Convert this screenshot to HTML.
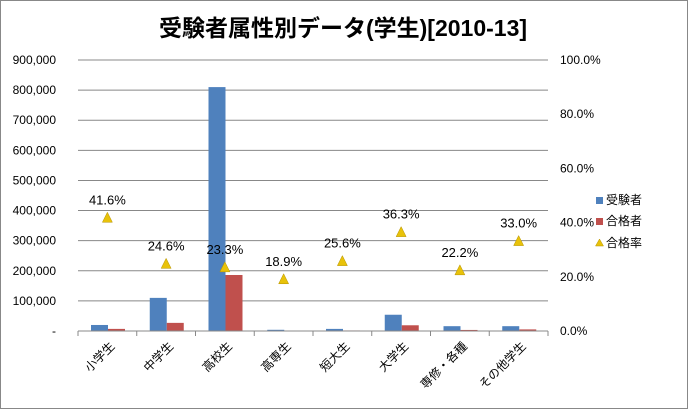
<!DOCTYPE html>
<html><head><meta charset="utf-8"><style>
body{margin:0;background:#fff;}
svg{display:block;font-family:"Liberation Sans","Noto Sans CJK JP",sans-serif;}
</style></head><body>
<svg width="688" height="409" viewBox="0 0 688 409" id="c">
<rect x="0.5" y="0.5" width="687" height="408" fill="#fff" stroke="#888"/>
<text x="343" y="36" text-anchor="middle" font-size="23" font-weight="bold" fill="#000">受験者属性別データ(学生)[2010-13]</text>
<g id="grid"></g><g id="bars"></g><g id="axes"></g><g id="marks"></g>
<g>
<rect x="596" y="197" width="7" height="7" fill="#4f81bd"/>
<text x="606" y="204" font-size="12">受験者</text>
<rect x="596" y="218" width="7" height="7" fill="#c0504d"/>
<text x="606" y="225" font-size="12">合格者</text>
<polygon points="599.5,239 603.5,246 595.5,246" fill="#e8c20a" stroke="#b59200" stroke-width="0.5"/>
<text x="606" y="247" font-size="12">合格率</text>
</g>
</svg>
<script>
const categories=["小学生","中学生","高校生","高専生","短大生","大学生","専修・各種","その他学生"];
const examinees=[20000,110000,810000,4000,7000,54000,16000,16000];
const passers=[7000,27000,186000,800,1800,19000,3500,5300];
const rates=[41.6,24.6,23.3,18.9,25.6,36.3,22.2,33.0];
const leftTicks=[0,100000,200000,300000,400000,500000,600000,700000,800000,900000];
const rightTicks=[0,20,40,60,80,100];
const NS="http://www.w3.org/2000/svg";
const X0=78,X1=548,Y0=331,Y1=60;
const cw=(X1-X0)/categories.length;
const yL=v=>Y0-(v/900000)*(Y0-Y1);
const yR=v=>Y0-(v/100)*(Y0-Y1);
function mk(t,a,p){const e=document.createElementNS(NS,t);for(const k in a)e.setAttribute(k,a[k]);document.getElementById(p).appendChild(e);return e;}
leftTicks.forEach(v=>{
 if(v>0){const g=mk("line",{x1:X0,x2:X1,y1:yL(v),y2:yL(v),stroke:"#888","stroke-width":1},"grid");
 
 }
 const t=mk("text",{x:X0-22,y:yL(v)+4,"text-anchor":"end","font-size":12},"axes");
 t.textContent=v===0?"-":v.toLocaleString("en-US");
 
 
});
rightTicks.forEach(v=>{
 const t=mk("text",{x:X1+12,y:yR(v)+4,"font-size":12},"axes");
 t.textContent=v.toFixed(1)+"%";
 
 
});
const ax=mk("line",{x1:X0,x2:X1,y1:Y0,y2:Y0,stroke:"#888"},"axes");


categories.forEach((c,i)=>{
 const x=X0+i*cw;
 const tk=mk("line",{x1:x,x2:x,y1:Y0,y2:Y0+5,stroke:"#888"},"axes");
 
 
 const b=mk("rect",{x:x+13,y:yL(examinees[i]),width:17,height:Y0-yL(examinees[i]),fill:"#4f81bd"},"bars");
 
 
 const r=mk("rect",{x:x+30,y:yL(passers[i]),width:17,height:Y0-yL(passers[i]),fill:"#c0504d"},"bars");
 
 
 const cx=x+cw/2,cy=yR(rates[i]);
 const m=mk("polygon",{points:`${cx},${cy-6} ${cx+5},${cy+4} ${cx-5},${cy+4}`,fill:"#e8c20a",stroke:"#b59200","stroke-width":0.5},"marks");
 
 
 const l=mk("text",{x:cx,y:cy-14,"text-anchor":"middle","font-size":13},"marks");
 l.textContent=rates[i].toFixed(1)+"%";
 
 
 const lx=cx+8,ly=Y0+16;
 const cl=mk("text",{x:lx,y:ly,"text-anchor":"end","font-size":12,transform:`rotate(-45 ${lx} ${ly})`},"axes");
 cl.textContent=c;
 
 
});
const lastTk=mk("line",{x1:X1,x2:X1,y1:Y0,y2:Y0+5,stroke:"#888"},"axes");


</script>
</body></html>
